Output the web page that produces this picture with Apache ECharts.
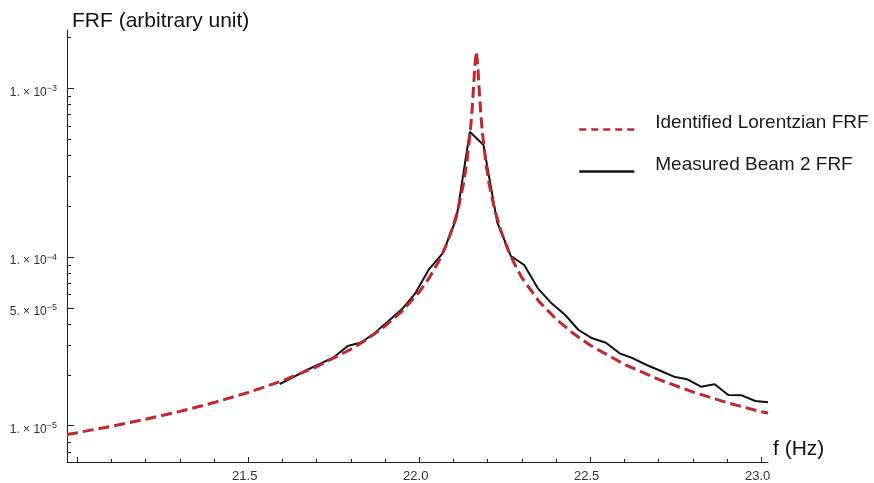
<!DOCTYPE html>
<html><head><meta charset="utf-8">
<script src="https://cdn.jsdelivr.net/npm/echarts@6/dist/echarts.min.js"></script>
<style>html,body{margin:0;padding:0;background:#fff}#c{width:874px;height:483px}</style>
</head><body><div id="c"></div>
<script>
// Identified Lorentzian FRF
const lorentzFreq = [20.97, 21.0, 21.1, 21.2, 21.3, 21.4, 21.5, 21.6, 21.7, 21.8, 21.85, 21.9, 21.95, 22.0, 22.03, 22.06, 22.08, 22.1, 22.115, 22.13, 22.14, 22.15, 22.155, 22.16, 22.163, 22.167, 22.171, 22.175, 22.18, 22.185, 22.195, 22.205, 22.22, 22.24, 22.26, 22.28, 22.3, 22.35, 22.4, 22.45, 22.5, 22.6, 22.7, 22.8, 22.9, 23.0, 23.02];
const lorentzValue = [8.86e-6, 9.09e-6, 9.92e-6, 1.092e-5, 1.215e-5, 1.371e-5, 1.573e-5, 1.846e-5, 2.236e-5, 2.838e-5, 3.282e-5, 3.892e-5, 4.782e-5, 6.205e-5, 7.556e-5, 9.661e-5, 1.187e-4, 1.538e-4, 1.975e-4, 2.755e-4, 3.729e-4, 5.704e-4, 7.635e-4, 1.100e-3, 1.391e-3, 1.650e-3, 1.391e-3, 1.017e-3, 7.158e-4, 5.419e-4, 3.599e-4, 2.680e-4, 1.934e-4, 1.408e-4, 1.100e-4, 9.00e-5, 7.55e-5, 5.46e-5, 4.29e-5, 3.53e-5, 3.00e-5, 2.31e-5, 1.88e-5, 1.585e-5, 1.370e-5, 1.210e-5, 1.188e-5];
// Measured Beam 2 FRF
const measFreq = [21.592, 21.632, 21.671, 21.711, 21.751, 21.791, 21.830, 21.870, 21.910, 21.950, 21.989, 22.029, 22.069, 22.109, 22.148, 22.188, 22.228, 22.268, 22.307, 22.347, 22.387, 22.427, 22.466, 22.506, 22.546, 22.586, 22.625, 22.665, 22.705, 22.745, 22.784, 22.824, 22.864, 22.904, 22.943, 22.983, 23.02];
const measValue = [1.767e-5, 1.943e-5, 2.139e-5, 2.336e-5, 2.552e-5, 2.968e-5, 3.114e-5, 3.544e-5, 4.175e-5, 4.917e-5, 6.117e-5, 8.488e-5, 1.056e-4, 1.703e-4, 5.53e-4, 4.612e-4, 1.612e-4, 1.014e-4, 8.966e-5, 6.523e-5, 5.314e-5, 4.530e-5, 3.692e-5, 3.297e-5, 3.105e-5, 2.686e-5, 2.509e-5, 2.290e-5, 2.118e-5, 1.952e-5, 1.884e-5, 1.702e-5, 1.759e-5, 1.521e-5, 1.514e-5, 1.401e-5, 1.376e-5];

const seriesNames = ['Identified Lorentzian FRF', 'Measured Beam 2 FRF'];
const xMajorTicks = [21.0, 21.5, 22.0, 22.5, 23.0];
const xLabelTicks = [21.5, 22.0, 22.5, 23.0];
const xMinorTicks = [21.1, 21.2, 21.3, 21.4, 21.6, 21.7, 21.8, 21.9, 22.1, 22.2, 22.3, 22.4, 22.6, 22.7, 22.8, 22.9];
const yLabelTicks = [1e-5, 5e-5, 1e-4, 1e-3];
const yMinorTicks = [7e-6, 8e-6, 9e-6, 2e-5, 3e-5, 4e-5, 6e-5, 7e-5, 8e-5, 9e-5, 2e-4, 3e-4, 4e-4, 5e-4, 6e-4, 7e-4, 8e-4, 9e-4, 2e-3];
const xMin = 20.97, xMax = 23.02, yMin = 6.09e-6, yMax = 2.22e-3;

const FONT = "'Liberation Sans', Arial, sans-serif";
const RED = '#c0282c';
const AX = '#222';

const lg = v => Math.log10(v);
function yLabel(v) {
  const e = Math.floor(v + 1e-9);
  const m = Math.round(Math.pow(10, v - e));
  return '{b|' + m + '. × 10}{s|−' + (-e) + '}';
}
function legendBox(name, top, lineStyle) {
  return {
    orient: 'vertical', left: 578, top: top, padding: 0,
    itemWidth: 55, itemHeight: 14,
    formatter: n => '{t|' + n + '}',
    textStyle: {rich: {t: {fontFamily: FONT, fontSize: 19, color: '#1a1a1a', padding: [0, 0, 14, 16]}}},
    itemStyle: {opacity: 0},
    data: [{name: name, lineStyle: lineStyle}]
  };
}

const chart = echarts.init(document.getElementById('c'), null, {renderer: 'canvas'});
chart.setOption({
  animation: false,
  backgroundColor: '#fff',
  grid: {left: 67, right: 106, top: 30, bottom: 21, containLabel: false},
  legend: [
    legendBox(seriesNames[0], 113, {type: [7, 5], width: 2.5, color: RED}),
    legendBox(seriesNames[1], 155, {type: 'solid', width: 2.5, color: '#111'})
  ],
  xAxis: [
    {
      type: 'value', min: xMin, max: xMax, position: 'bottom',
      name: 'f (Hz)', nameLocation: 'end', nameGap: 5,
      nameTextStyle: {fontFamily: FONT, fontSize: 21, color: '#111', align: 'left', verticalAlign: 'bottom', padding: [0, 0, 2, 0]},
      axisLine: {show: true, lineStyle: {color: AX, width: 1}},
      axisTick: {show: true, inside: true, length: 5, customValues: xMajorTicks, lineStyle: {color: AX}},
      axisLabel: {show: true, customValues: xLabelTicks, margin: 8, fontFamily: FONT, fontSize: 13, color: '#333', padding: [0, 7, 0, 0],
        formatter: v => v.toFixed(1)},
      splitLine: {show: false}
    },
    {
      type: 'value', min: xMin, max: xMax, position: 'bottom',
      axisLine: {show: false},
      axisTick: {show: true, inside: true, length: 3, customValues: xMinorTicks, lineStyle: {color: AX}},
      axisLabel: {show: false},
      splitLine: {show: false}
    }
  ],
  yAxis: [
    {
      type: 'log', logBase: 10, min: yMin, max: yMax, position: 'left',
      name: 'FRF (arbitrary unit)', nameLocation: 'end', nameGap: 9,
      nameTextStyle: {fontFamily: FONT, fontSize: 21, color: '#111', align: 'left', verticalAlign: 'middle', padding: [0, 0, 0, 5]},
      axisLine: {show: true, lineStyle: {color: AX, width: 1}},
      axisTick: {show: false}, axisLabel: {show: false}, splitLine: {show: false}, minorTick: {show: false}
    },
    {
      type: 'value', min: lg(yMin), max: lg(yMax), position: 'left',
      axisLine: {show: false},
      axisTick: {show: true, inside: true, length: 7, customValues: yLabelTicks.map(lg), lineStyle: {color: AX}},
      axisLabel: {show: true, customValues: yLabelTicks.map(lg), margin: 10, formatter: yLabel, padding: [8, 0, 0, 0],
        rich: {
          b: {fontFamily: FONT, fontSize: 12, color: '#333'},
          s: {fontFamily: FONT, fontSize: 9, color: '#333', padding: [0, 0, 8, 0]}
        }},
      splitLine: {show: false}
    },
    {
      type: 'value', min: lg(yMin), max: lg(yMax), position: 'left',
      axisLine: {show: false},
      axisTick: {show: true, inside: true, length: 4, customValues: yMinorTicks.map(lg), lineStyle: {color: AX}},
      axisLabel: {show: false},
      splitLine: {show: false}
    }
  ],
  series: [
    {
      name: seriesNames[0], type: 'line', xAxisIndex: 0, yAxisIndex: 0,
      data: lorentzFreq.map((f, i) => [f, lorentzValue[i]]),
      symbol: 'none', showSymbol: false, z: 4, clip: false,
      lineStyle: {color: RED, width: 3, type: [11, 5]},
      itemStyle: {color: RED}
    },
    {
      name: seriesNames[1], type: 'line', xAxisIndex: 0, yAxisIndex: 0,
      data: measFreq.map((f, i) => [f, measValue[i]]),
      symbol: 'none', showSymbol: false, z: 3, clip: false,
      lineStyle: {color: '#111', width: 2},
      itemStyle: {color: '#111'}
    }
  ]
});
</script></body></html>
